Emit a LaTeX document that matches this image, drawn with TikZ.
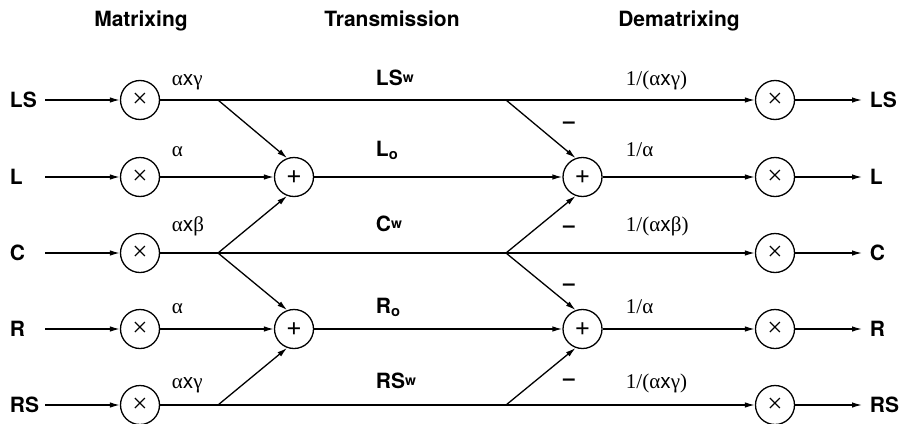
\documentclass[tikz,border=0pt]{standalone}
\usepackage{fontspec}
\setmainfont{TeX Gyre Heros}
\newfontfamily\greekfont{Liberation Serif}
\usetikzlibrary{arrows.meta}

\newcommand\labsize{\fontsize{21}{25}\selectfont}
\newcommand\opsize{\fontsize{27}{30}\selectfont}

\tikzset{
    mult/.style={circle, draw, minimum size=39pt, inner sep=0pt, font=\opsize\greekfont},
    sum/.style={circle, draw, minimum size=39pt, inner sep=0pt, font=\opsize},
    flow/.style={-{Latex[length=10pt,width=5.5pt]}},
    chan/.style={font=\labsize\bfseries},
    gain/.style={anchor=base west, font=\labsize},
    sign/.style={font=\labsize\bfseries, inner sep=0pt}
}

\begin{document}
\begin{tikzpicture}[x=1pt, y=-1pt, line width=1.3pt]
    \useasboundingbox (0,0) rectangle (901,423);

    \node[chan, anchor=base] (hm) at (141,26) {Matrixing};
    \node[chan, anchor=base] (ht) at (392,26) {Transmission};
    \node[chan, anchor=base] (hd) at (679,26) {Dematrixing};

    \foreach \n/\y in {LS/100, L/177, C/253, R/329, RS/405}{
        \node[chan, anchor=west] (in\n) at (6,\y) {\n};
        \coordinate (s\n) at (45,\y);
        \node[mult] (a\n) at (140,\y) {×};
        \node[mult] (b\n) at (775,\y) {×};
        \coordinate (e\n) at (862,\y);
        \node[chan, anchor=west] (out\n) at (866,\y) {\n};
        \draw[flow] (s\n) -- (a\n);
        \draw[flow] (b\n) -- (e\n);
    }

    \node[sum] (pL) at (294,177) {+};
    \node[sum] (pR) at (294,329) {+};
    \node[sum] (qL) at (582.5,177) {+};
    \node[sum] (qR) at (582.5,329) {+};

    \foreach \n/\y in {LS/100, C/253, RS/405}{
        \coordinate (j\n) at (218,\y);
        \coordinate (k\n) at (506,\y);
        \draw[flow] (a\n) -- (b\n);
    }

    \draw[flow] (aL) -- (pL);
    \draw[flow] (pL) -- (qL);
    \draw[flow] (qL) -- (bL);
    \draw[flow] (aR) -- (pR);
    \draw[flow] (pR) -- (qR);
    \draw[flow] (qR) -- (bR);

    \draw[flow] (jLS) -- (pL.110);
    \draw[flow] (jC) -- (pL.250);
    \draw[flow] (jC) -- (pR.110);
    \draw[flow] (jRS) -- (pR.250);
    \draw[flow] (kLS) -- (qL.110);
    \draw[flow] (kC) -- (qL.250);
    \draw[flow] (kC) -- (qR.110);
    \draw[flow] (kRS) -- (qR.250);

    \node[gain] (gLS) at (168,85) {{\greekfont α}x{\greekfont γ}};
    \node[gain] (gL) at (168,156) {\greekfont α};
    \node[gain] (gC) at (168,231) {{\greekfont α}x{\greekfont β}};
    \node[gain] (gR) at (168,313) {\greekfont α};
    \node[gain] (gRS) at (168,388) {{\greekfont α}x{\greekfont γ}};

    \node[gain, font=\labsize\bfseries] (tLS) at (372,85) {LS\raisebox{3pt}{\fontsize{14}{14}\selectfont w}};
    \node[gain, font=\labsize\bfseries] (tL) at (372,156) {L\textsubscript{o}};
    \node[gain, font=\labsize\bfseries] (tC) at (372,231) {C\raisebox{3pt}{\fontsize{14}{14}\selectfont w}};
    \node[gain, font=\labsize\bfseries] (tR) at (372,313) {R\textsubscript{o}};
    \node[gain, font=\labsize\bfseries] (tRS) at (372,388) {RS\raisebox{3pt}{\fontsize{14}{14}\selectfont w}};

    \node[gain] (dLS) at (622,85) {\greekfont 1/(α{\normalfont x}γ)};
    \node[gain] (dL) at (622,156) {\greekfont 1/α};
    \node[gain] (dC) at (622,231) {\greekfont 1/(α{\normalfont x}β)};
    \node[gain] (dR) at (622,313) {\greekfont 1/α};
    \node[gain] (dRS) at (622,388) {\greekfont 1/(α{\normalfont x}γ)};

    \node[sign] (mLS) at (569,125) {\textendash};
    \node[sign] (mCu) at (569,229) {\textendash};
    \node[sign] (mCd) at (569,287) {\textendash};
    \node[sign] (mRS) at (569,382) {\textendash};
\end{tikzpicture}
\end{document}
